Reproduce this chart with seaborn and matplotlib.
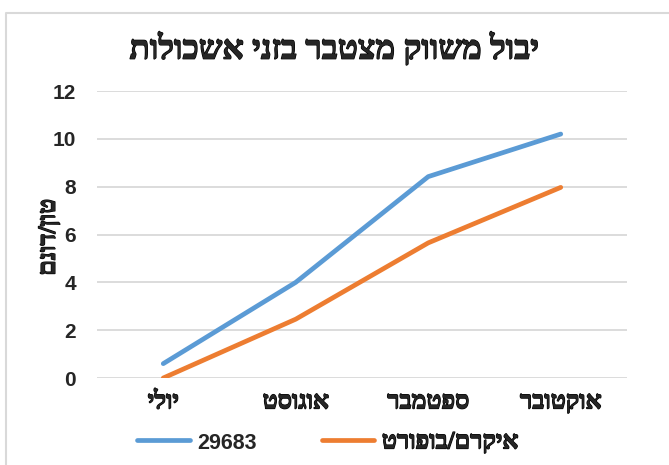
import matplotlib.pyplot as plt
import matplotlib.lines as mlines
import matplotlib.patheffects as pe
import numpy as np
import pandas as pd
import seaborn as sns

# Data
months = ["יולי", "אוגוסט", "ספטמבר", "אוקטובר"]
series_names = ["29683", "איקרם/בופורט"]
yield_29683 = [0.6, 4.0, 8.42, 10.2]
yield_ikrom = [0.0, 2.46, 5.65, 7.97]
title = "יבול משווק מצטבר בזני אשכולות"
ylabel = "טון/דונם"


def vis(s):
    # matplotlib has no bidi support: reverse Hebrew for visual order
    return s[::-1] if any("\u0590" <= c <= "\u05ff" for c in s) else s


df = pd.DataFrame({
    "month": months * 2,
    "value": yield_29683 + yield_ikrom,
    "series": [series_names[0]] * 4 + [series_names[1]] * 4,
})

sns.set_style("white")
plt.rcParams["font.family"] = ["Liberation Serif", "DejaVu Sans"]
heb_bold = [pe.withStroke(linewidth=0.9, foreground="black")]
num_font = ["Liberation Sans", "DejaVu Sans"]

W, H = 669, 465
fig = plt.figure(figsize=(W / 100, H / 100), dpi=100)
ax = fig.add_axes([97 / W, 1 - 378 / H, (627 - 97) / W, (378 - 91) / H])

palette = {series_names[0]: "#5B9BD5", series_names[1]: "#ED7D31"}
sns.lineplot(data=df, x="month", y="value", hue="series", palette=palette,
             linewidth=3.4, ax=ax, legend=False, sort=False,
             solid_capstyle="round", solid_joinstyle="round")

ax.set_ylim(0, 12)
ax.set_xlim(-0.5, 3.5)
ax.set_yticks(np.arange(0, 13, 2))
ax.yaxis.grid(True, color="#D9D9D9", linewidth=1.3)
ax.set_axisbelow(True)
for s in ax.spines.values():
    s.set_visible(False)
ax.tick_params(length=0)
ax.tick_params(axis="y", pad=15)
ax.tick_params(axis="x", pad=9)

ax.set_xticks(range(len(months)))
ax.set_xticklabels([vis(m) for m in months], fontsize=18, fontweight="bold")
for lab in ax.get_xticklabels():
    lab.set_path_effects(heb_bold)
for lab in ax.get_yticklabels():
    lab.set_fontsize(15)
    lab.set_fontweight("bold")
    lab.set_family(num_font)

ax.set_xlabel("")
ax.set_ylabel(vis(ylabel), fontsize=18, fontweight="bold", labelpad=0,
              path_effects=heb_bold)
ax.yaxis.set_label_coords(-0.07, 0.49)

fig.text(0.5, 1 - 49 / H, vis(title), ha="center", va="center",
         fontsize=24, fontweight="bold", path_effects=heb_bold)

handles = [mlines.Line2D([], [], color=palette[n], linewidth=3.4,
                         solid_capstyle="round") for n in series_names]
leg = fig.legend(handles, [vis(n) for n in series_names], loc="center",
                 bbox_to_anchor=(0.49, 1 - 442 / H), ncol=2, frameon=False,
                 prop={"weight": "bold", "size": 18}, handlelength=2.1,
                 columnspacing=2.6, handletextpad=0.3)
t0, t1 = leg.get_texts()
t0.set_family(num_font)
t0.set_fontsize(15.5)
t1.set_path_effects(heb_bold)

# chart area border (top and left edges visible)
fig.add_artist(mlines.Line2D([6 / W, 6 / W, 1], [0, 1 - 13 / H, 1 - 13 / H],
                             transform=fig.transFigure, color="#D9D9D9",
                             linewidth=1.5))

fig.savefig("out.png", dpi=100)
